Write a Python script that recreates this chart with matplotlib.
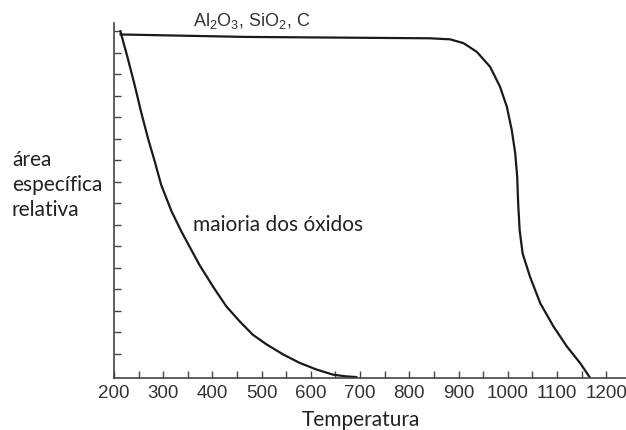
import numpy as np
import matplotlib.pyplot as plt

plt.rcParams['mathtext.fontset'] = 'custom'
plt.rcParams['mathtext.rm'] = 'Liberation Sans'
plt.rcParams['mathtext.it'] = 'Liberation Sans'

# Data (temperature, relative specific area)
temp_oxides = [213, 228, 242, 255, 269, 283, 296, 317, 337, 374, 401, 428, 455,
               482, 510, 544, 577, 611, 645, 672, 693]
area_oxides = [1.000, 0.922, 0.845, 0.768, 0.692, 0.624, 0.557, 0.481, 0.423,
               0.326, 0.265, 0.208, 0.165, 0.126, 0.098, 0.069, 0.045, 0.026,
               0.011, 0.006, 0.004]

temp_al2o3 = [213, 466, 842, 883, 910, 937, 964, 984, 998, 1008, 1015, 1019,
              1021, 1024, 1030, 1045, 1066, 1093, 1120, 1147, 1167]
area_al2o3 = [0.990, 0.983, 0.979, 0.976, 0.965, 0.940, 0.897, 0.840, 0.782,
              0.715, 0.648, 0.581, 0.504, 0.427, 0.360, 0.293, 0.216, 0.149,
              0.092, 0.044, 0.002]

xticks = np.arange(200, 1201, 100)
xticks_minor = np.arange(250, 1201, 100)
yticks = np.linspace(0.0705, 1.0, 16)

fig = plt.figure(figsize=(6.26, 4.30), dpi=100)
ax = fig.add_axes([0.182, 0.1198, 0.818, 0.8267])

ax.plot(temp_oxides, area_oxides, color='#1a1a1a', lw=1.6,
        solid_capstyle='round', solid_joinstyle='round')
ax.plot(temp_al2o3, area_al2o3, color='#1a1a1a', lw=1.6,
        solid_capstyle='round', solid_joinstyle='round')

ax.set_xlim(200, 1240)
ax.set_ylim(0, 1.023)
ax.spines['top'].set_visible(False)
ax.spines['right'].set_visible(False)
for s in ['left', 'bottom']:
    ax.spines[s].set_color('#444444')
    ax.spines[s].set_linewidth(1.2)

ax.set_xticks(xticks)
ax.set_xticks(xticks_minor, minor=True)
ax.set_yticks(yticks)
ax.set_yticklabels([])
ax.tick_params(axis='both', which='both', direction='in', length=5,
               width=1.0, color='#444444')
ax.tick_params(axis='x', which='major', labelsize=13.5, labelcolor='#333333', pad=5)
for lab in ax.get_xticklabels():
    lab.set_family('Liberation Sans')

fig.text(361 / 626, 4.5 / 430, 'Temperatura', fontsize=15, family='Lato',
         color='#222222', ha='center', va='baseline')

fig.text(0.019, 0.570, 'área\nespecífica\nrelativa', fontsize=15, family='Lato',
         color='#222222', ha='left', va='center', linespacing=1.3)
ax.text(360, 0.442, 'maioria dos óxidos', fontsize=15, family='Lato',
        color='#222222', ha='left', va='center')
ax.text(360, 1.030, r'Al$_2$O$_3$, SiO$_2$, C', fontsize=13,
        family='Liberation Sans', color='#333333', ha='left', va='center',
        clip_on=False)

fig.savefig('out.png', dpi=100)
